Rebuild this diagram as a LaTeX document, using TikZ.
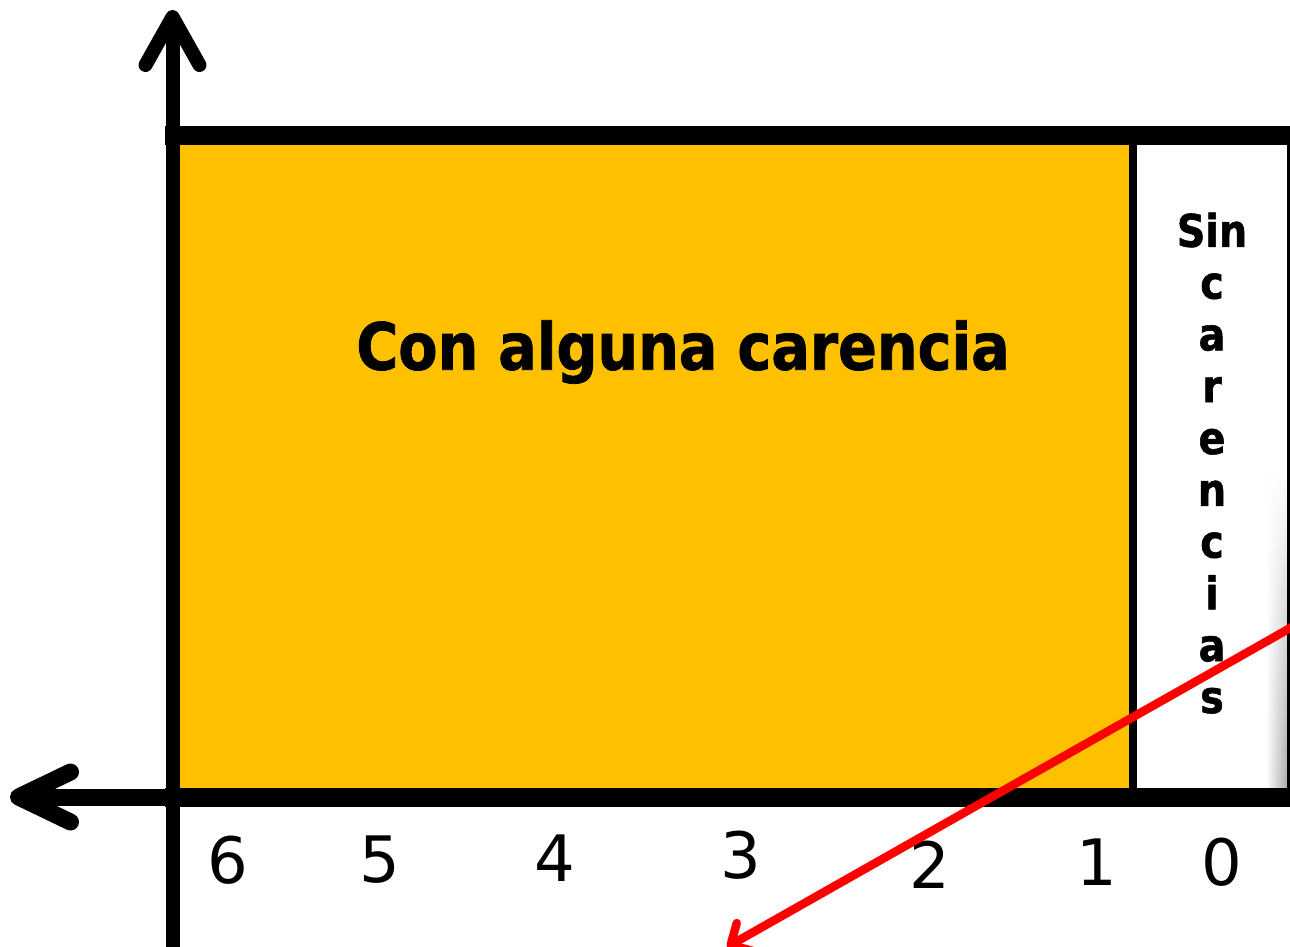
\documentclass[tikz,border=0pt]{standalone}
\usepackage{fontspec}
\setmainfont{DejaVu Sans}[FakeStretch=0.88,BoldFeatures={FakeBold=1.2}]
\newfontfamily\numfont{DejaVu Sans}
\usetikzlibrary{arrows.meta,fadings}
\definecolor{gold}{HTML}{FFC000}

\begin{document}
\begin{tikzpicture}[x=1pt,y=-1pt,line cap=butt,
  axis line/.style={draw=black,line width=14pt},
  title node/.style={font=\fontsize{65}{65}\selectfont\bfseries},
  side node/.style={font=\fontsize{45}{51.8}\selectfont\bfseries,align=center},
  num node/.style={font=\fontsize{64}{64}\selectfont\numfont}]
\useasboundingbox (0,0) rectangle (1290,947);
%regions
  \fill[gold] (171,136) rectangle (1132,797);
  \fill[white] (1132,136) rectangle (1290,797);
  \shade[left color=white,right color=black!35,path fading=north] (1266,470) rectangle (1288,792);
  \node[title node] (con) at (683,352) {Con alguna carencia};
  \node[side node,anchor=base] (sin) at (1212,713) {Sin\\c\\a\\r\\e\\n\\c\\i\\a\\s};
%frame
  \draw[line width=19pt] (165,136) -- (1300,136);
  \draw[line width=19pt] (165,797) -- (1300,797);
  \draw[line width=8pt] (1132.5,136) -- (1132.5,797);
  \draw[line width=6pt] (1290,136) -- (1290,797);
%axes
  \coordinate (o) at (172.5,797);
  \coordinate (ytop) at (172.5,10);
  \coordinate (xleft) at (10,797);
  \coordinate (ybot) at (172.5,947);
  \draw[axis line,-{Straight Barb[length=48pt,width=54pt,round]}] (ybot) -- (ytop);
  \draw[axis line,line width=17pt,-{Straight Barb[length=52pt,width=50pt,round]}] (o) -- (xleft);
%numbers
  \foreach \n/\x/\y in {6/228/860,5/380/860,4/555/858,3/741/855,2/930/865,1/1097/862,0/1222/862}
    \node[num node] (n\n) at (\x,\y) {\n};
%pointer
  \coordinate (pstart) at (1292,627);
  \coordinate (pend) at (727,947);
  \draw[red,line width=8.5pt,-{Straight Barb[length=16pt,width=32pt,round]}] (pstart) -- (pend);
\end{tikzpicture}
\end{document}
